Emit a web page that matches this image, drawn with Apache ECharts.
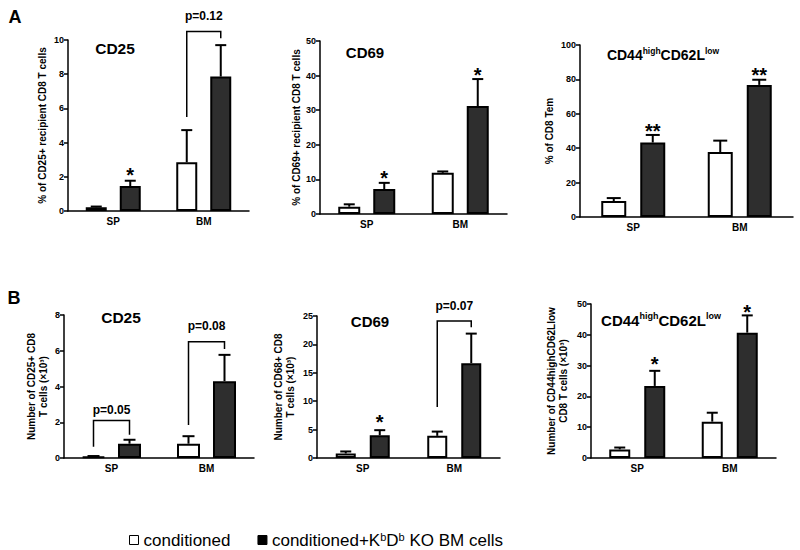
<!DOCTYPE html>
<html>
<head>
<meta charset="utf-8">
<script src="https://cdn.jsdelivr.net/npm/echarts@6/dist/echarts.min.js"></script>
<style>html,body{margin:0;padding:0;background:#fff;}#c{width:800px;height:550px;}</style>
</head>
<body>
<div id="c"></div>
<script>
// ---------- DATA ----------
const categories = ['SP', 'BM'];
const condName = 'conditioned';
const koName = 'conditioned+KbDb KO BM cells';

// A: percentages
const cd25PctCond = [0.22, 2.85];
const cd25PctCondErr = [0.04, 1.88];
const cd25PctKO = [1.46, 7.86];
const cd25PctKOErr = [0.31, 1.84];

const cd69PctCond = [2.1, 11.9];
const cd69PctCondErr = [0.7, 0.4];
const cd69PctKO = [7.2, 31.2];
const cd69PctKOErr = [1.8, 7.8];

const temPctCond = [9.3, 37.8];
const temPctCondErr = [1.7, 6.6];
const temPctKO = [43.3, 76.8];
const temPctKOErr = [4.4, 3.0];

// B: numbers (x10^3)
const cd25NumCond = [0.07, 0.8];
const cd25NumCondErr = [0.04, 0.42];
const cd25NumKO = [0.8, 4.3];
const cd25NumKOErr = [0.22, 1.47];

const cd69NumCond = [0.8, 3.9];
const cd69NumCondErr = [0.35, 0.75];
const cd69NumKO = [4.0, 16.7];
const cd69NumKOErr = [0.9, 5.2];

const temNumCond = [2.8, 11.8];
const temNumCondErr = [0.6, 2.9];
const temNumKO = [23.4, 40.7];
const temNumKOErr = [4.9, 5.6];

// axis ranges / ticks
const yMax = [10, 50, 100, 8, 25, 50];
const yStep = [2, 10, 20, 2, 5, 10];
const yNames = [
  '% of CD25+ recipient CD8 T cells',
  '% of CD69+ recipient CD8 T cells',
  '% of CD8 Tem',
  'Number of CD25+ CD8\nT cells (×10³)',
  'Number of CD68+ CD8\nT cells (×10³)',
  'Number of CD44highCD62Llow\nCD8 T cells (×10³)'
];

// significance brackets (value space)
const bracketPanel = [0, 3, 3, 4];
const bracketCat = [1, 0, 1, 1];
const bracketLeftY = [5.5, 0.63, 1.85, 9.0];
const bracketTopY = [10.5, 2.1, 6.5, 24.1];
const bracketRightY = [10.1, 1.3, 6.1, 23.0];
const pLabels = ['p=0.12', 'p=0.05', 'p=0.08', 'p=0.07'];
const pLabelY = [11.4, 2.7, 7.4, 26.8];

// stars (on KO bars)
const starPanel = [0, 1, 1, 2, 2, 4, 5, 5];
const starCat = [0, 0, 1, 0, 1, 0, 0, 1];
const starText = ['*', '*', '*', '**', '**', '*', '*', '*'];
const starY = [2.35, 11.6, 41.4, 52.5, 85, 7.0, 31.8, 48.6];

// ---------- LAYOUT ----------
const FONT = '"Liberation Sans", Arial, sans-serif';
const gridLeft = [68, 320, 580, 64, 317, 591];
const gridTop = [40, 41, 45, 315, 316, 304];
const gridWidth = [181, 187, 213, 190, 183, 185];
const gridHeight = [171, 173, 172, 143, 142, 154];
const barW = [21, 22, 25, 23, 20, 21];
const barGapPx = [13, 13, 14, 13, 14, 14];
const capW = [11, 11, 14, 12, 11, 11];
const nameGap = [20, 17, 25, 15, 21, 22];
const nameSize = [10, 10, 10, 10, 10, 10];
const titleX = [115, 365, 663, 121, 370, 661];
const titleY = [48, 52, 55, 317, 321, 320];
const titleMain = [15.5, 15, 14, 15.5, 15, 15];
const titleSup = [9, 9, 8.5, 9, 9, 9];
const titleRich = ['{m|CD25}', '{m|CD69}', '{m|CD44}{s|high}{m|CD62L}{s|low}',
                   '{m|CD25}', '{m|CD69}', '{m|CD44}{s|high}{m|CD62L}{s|low}'];

const condVals = [cd25PctCond, cd69PctCond, temPctCond, cd25NumCond, cd69NumCond, temNumCond];
const condErrs = [cd25PctCondErr, cd69PctCondErr, temPctCondErr, cd25NumCondErr, cd69NumCondErr, temNumCondErr];
const koVals = [cd25PctKO, cd69PctKO, temPctKO, cd25NumKO, cd69NumKO, temNumKO];
const koErrs = [cd25PctKOErr, cd69PctKOErr, temPctKOErr, cd25NumKOErr, cd69NumKOErr, temNumKOErr];

const grids = [], xAxes = [], yAxes = [], series = [], graphics = [];

function errRender(p, g) {
  return function (params, api) {
    const cat = api.value(0), m = api.value(1), e = api.value(2);
    const base = api.coord([cat, m]);
    const top = api.coord([cat, m + e]);
    const off = (barW[p] + barGapPx[p]) / 2;
    const x = base[0] + (g ? off : -off);
    const h = capW[p] / 2;
    return {
      type: 'group',
      children: [
        { type: 'line', shape: { x1: x, y1: base[1], x2: x, y2: top[1] }, style: { stroke: '#000', lineWidth: 2 } },
        { type: 'line', shape: { x1: x - h, y1: top[1], x2: x + h, y2: top[1] }, style: { stroke: '#000', lineWidth: 2 } }
      ]
    };
  };
}

for (let p = 0; p < 6; p++) {
  grids.push({ left: gridLeft[p], top: gridTop[p], width: gridWidth[p], height: gridHeight[p], containLabel: false });
  xAxes.push({
    gridIndex: p, type: 'category', data: categories, boundaryGap: true,
    axisLine: { lineStyle: { color: '#000', width: 1.5 } },
    axisTick: { alignWithLabel: true, length: 3, lineStyle: { color: '#000', width: 1.5 } },
    axisLabel: { color: '#000', fontWeight: 'bold', fontSize: 10, fontFamily: FONT, margin: 5 },
    splitLine: { show: false }
  });
  yAxes.push({
    gridIndex: p, type: 'value', min: 0, max: yMax[p], interval: yStep[p],
    name: yNames[p], nameLocation: 'middle', nameGap: nameGap[p], nameRotate: 90,
    nameTextStyle: { color: '#000', fontWeight: 'bold', fontSize: nameSize[p], fontFamily: FONT, lineHeight: 11.5 },
    axisLine: { show: true, lineStyle: { color: '#000', width: 1.5 } },
    axisTick: { show: true, length: 4, lineStyle: { color: '#000', width: 1.5 } },
    axisLabel: { color: '#000', fontWeight: 'bold', fontSize: 9, fontFamily: FONT, margin: 4 },
    splitLine: { show: false }
  });
  const gapPct = (barGapPx[p] / barW[p] * 100).toFixed(1) + '%';
  series.push({
    type: 'bar', name: condName, xAxisIndex: p, yAxisIndex: p,
    data: condVals[p], barWidth: barW[p], barGap: gapPct,
    itemStyle: { color: '#fff', borderColor: '#000', borderWidth: 2 },
    emphasis: { disabled: true }, z: 2
  });
  series.push({
    type: 'bar', name: koName, xAxisIndex: p, yAxisIndex: p,
    data: koVals[p], barWidth: barW[p], barGap: gapPct,
    itemStyle: { color: '#2e2e2e', borderColor: '#000', borderWidth: 2 },
    emphasis: { disabled: true }, z: 2
  });
  series.push({
    type: 'custom', xAxisIndex: p, yAxisIndex: p, clip: false, z: 3,
    data: categories.map((c, i) => [i, condVals[p][i], condErrs[p][i]]),
    renderItem: errRender(p, 0), silent: true
  });
  series.push({
    type: 'custom', xAxisIndex: p, yAxisIndex: p, clip: false, z: 3,
    data: categories.map((c, i) => [i, koVals[p][i], koErrs[p][i]]),
    renderItem: errRender(p, 1), silent: true
  });

  const bIdx = bracketPanel.map((v, i) => v === p ? i : -1).filter(i => i >= 0);
  if (bIdx.length) {
    series.push({
      type: 'custom', xAxisIndex: p, yAxisIndex: p, clip: false, z: 4, silent: true,
      data: bIdx.map(i => [bracketCat[i], bracketLeftY[i], bracketTopY[i], bracketRightY[i], pLabelY[i]]),
      renderItem: function (params, api) {
        const i = bIdx[params.dataIndex];
        const cat = api.value(0);
        const off = (barW[p] + barGapPx[p]) / 2;
        const l = api.coord([cat, api.value(1)]);
        const t = api.coord([cat, api.value(2)]);
        const r = api.coord([cat, api.value(3)]);
        const tl = api.coord([cat, api.value(4)]);
        const xl = l[0] - off, xr = l[0] + off;
        return {
          type: 'group',
          children: [
            { type: 'polyline', shape: { points: [[xl, l[1]], [xl, t[1]], [xr, t[1]], [xr, r[1]]] },
              style: { stroke: '#000', lineWidth: 1.5, fill: null } },
            { type: 'text', x: tl[0], y: tl[1],
              style: { text: pLabels[i], fill: '#000', fontSize: 12, fontWeight: 'bold', fontFamily: FONT,
                       align: 'center', verticalAlign: 'middle', textAlign: 'center', textVerticalAlign: 'middle' } }
          ]
        };
      }
    });
  }

  const sIdx = starPanel.map((v, i) => v === p ? i : -1).filter(i => i >= 0);
  if (sIdx.length) {
    series.push({
      type: 'custom', xAxisIndex: p, yAxisIndex: p, clip: false, z: 4, silent: true,
      data: sIdx.map(i => [starCat[i], starY[i]]),
      renderItem: function (params, api) {
        const i = sIdx[params.dataIndex];
        const off = (barW[p] + barGapPx[p]) / 2;
        const c = api.coord([api.value(0), api.value(1)]);
        return { type: 'text', x: c[0] + off, y: c[1] + 4,
          style: { text: starText[i], fill: '#000', fontSize: 20, fontWeight: 'bold', fontFamily: FONT,
                   align: 'center', verticalAlign: 'middle', textAlign: 'center', textVerticalAlign: 'middle' } };
      }
    });
  }

  graphics.push({
    type: 'text', x: titleX[p], y: titleY[p], silent: true,
    style: {
      text: titleRich[p], align: 'center', verticalAlign: 'middle', textAlign: 'center', textVerticalAlign: 'middle',
      rich: {
        m: { fontSize: titleMain[p], fontWeight: 'bold', fontFamily: FONT, fill: '#000', lineHeight: titleMain[p] + 3 },
        s: { fontSize: titleSup[p], fontWeight: 'bold', fontFamily: FONT, fill: '#000', verticalAlign: 'top', lineHeight: titleSup[p] }
      }
    }
  });
}

graphics.push({ type: 'text', x: 15, y: 17, silent: true,
  style: { text: 'A', fontSize: 18, fontWeight: 'bold', fontFamily: FONT, fill: '#000', align: 'center', verticalAlign: 'middle', textAlign: 'center', textVerticalAlign: 'middle' } });
graphics.push({ type: 'text', x: 14, y: 298, silent: true,
  style: { text: 'B', fontSize: 18, fontWeight: 'bold', fontFamily: FONT, fill: '#000', align: 'center', verticalAlign: 'middle', textAlign: 'center', textVerticalAlign: 'middle' } });

const chart = echarts.init(document.getElementById('c'), null, { renderer: 'svg', width: 800, height: 550 });
chart.setOption({
  animation: false,
  backgroundColor: '#fff',
  textStyle: { fontFamily: FONT },
  grid: grids,
  xAxis: xAxes,
  yAxis: yAxes,
  series: series,
  graphic: graphics,
  legend: {
    left: 124, top: 526, orient: 'horizontal',
    itemWidth: 9, itemHeight: 9, itemGap: 27, selectedMode: false,
    data: [
      { name: condName, icon: 'rect', itemStyle: { color: '#fff', borderColor: '#000', borderWidth: 1 } },
      { name: koName, icon: 'rect', itemStyle: { color: '#000', borderColor: '#000', borderWidth: 1 } }
    ],
    formatter: function (name) {
      return name === koName ? '{t|conditioned+K}{s|b}{t|D}{s|b}{t| KO BM cells}' : '{t|conditioned}';
    },
    textStyle: {
      color: '#000', fontFamily: FONT, fontSize: 17, lineHeight: 18,
      rich: {
        t: { fontSize: 17, fontFamily: FONT, color: '#000', lineHeight: 18 },
        s: { fontSize: 11, fontFamily: FONT, color: '#000', verticalAlign: 'top', lineHeight: 11 }
      }
    }
  }
});
</script>
</body>
</html>
